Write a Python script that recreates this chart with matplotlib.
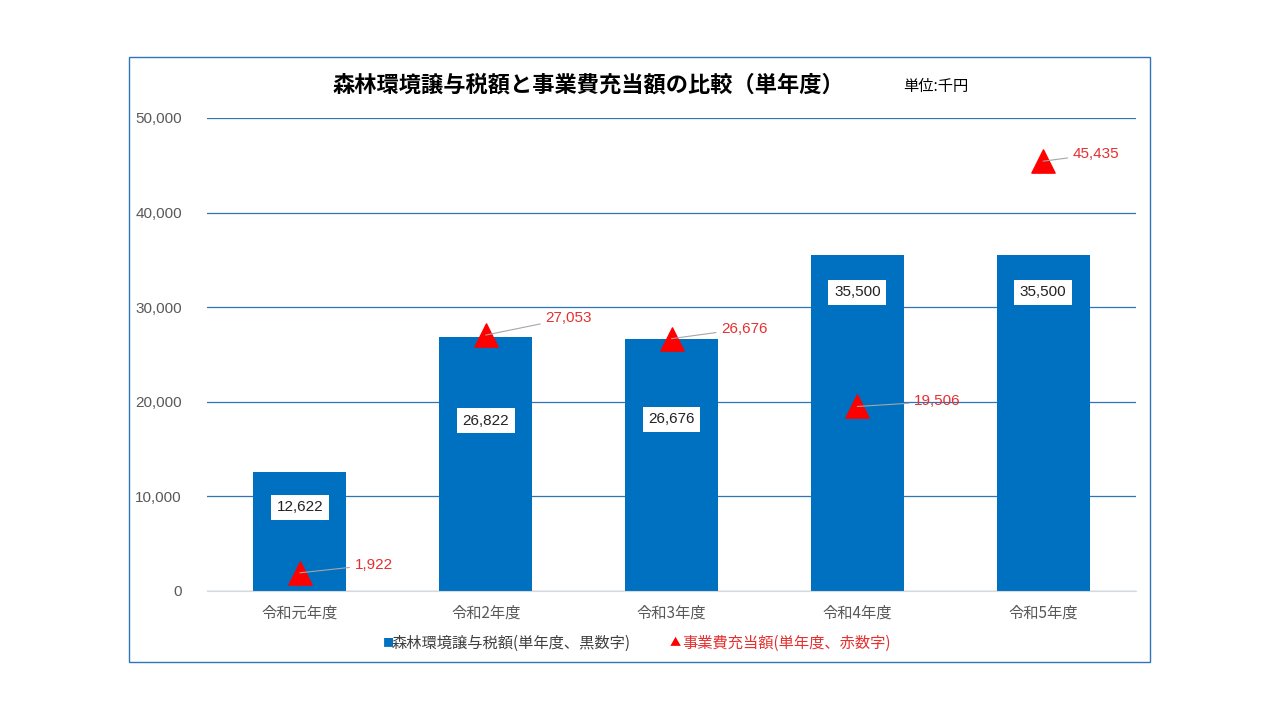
import matplotlib
matplotlib.use("Agg")
import matplotlib.pyplot as plt
from matplotlib.patches import Rectangle

plt.rcParams["font.family"] = "Noto Sans CJK JP"

categories = ["令和元年度", "令和2年度", "令和3年度", "令和4年度", "令和5年度"]
tax = [12622, 26822, 26676, 35500, 35500]
cost = [1922, 27053, 26676, 19506, 45435]
label_frac = [0.70, 0.67, 0.68, 0.89, 0.89]
label_off = [(55, 8), (60, 17), (50, 10), (57, 5), (30, 7)]  # pixels

fig = plt.figure(figsize=(12.8, 7.2), dpi=100)
fig.patches.append(Rectangle((129/1280, 1-662/720), (1150-129)/1280, (662-57)/720,
                             transform=fig.transFigure, fill=False, edgecolor="#2E75B6", lw=1))
ax = fig.add_axes([207/1280, 1-591/720, (1136-207)/1280, (591-118)/720])
x = range(len(categories))
ax.bar(x, tax, width=0.5, color="#0070C0", zorder=2)
for i, v in enumerate(tax):
    ax.text(i, v*label_frac[i], f"{v:,}", ha="center", va="center", fontsize=11, color="#222",
            bbox=dict(facecolor="white", edgecolor="none", pad=4), zorder=4, family="Liberation Sans")
ax.scatter(x, cost, marker="^", s=280, color="#FF0000", zorder=3)
for i, v in enumerate(cost):
    dx, dy = label_off[i]
    ax.annotate(f"{v:,}", (i, v), xytext=(dx*0.72, dy*0.72), textcoords="offset points",
                color="#E53030", fontsize=11, va="center", ha="left", family="Liberation Sans",
                arrowprops=dict(arrowstyle="-", color="#A6A6A6", lw=0.8, shrinkA=2, shrinkB=0),
                zorder=5)
ax.set_xlim(-0.5, 4.5)
ax.set_ylim(0, 50000)
ax.set_yticks(range(0, 50001, 10000))
ax.set_yticklabels([f"{t:,}" for t in range(0, 50001, 10000)], family="Liberation Sans")
ax.grid(axis="y", color="#2E75B6", lw=0.9, zorder=0)
ax.set_axisbelow(True)
ax.set_xticks(list(x))
ax.set_xticklabels(categories)
for s in ["top", "right", "left"]:
    ax.spines[s].set_visible(False)
ax.spines["bottom"].set_color("#D9D9D9")
ax.tick_params(length=0, labelsize=11, colors="#595959", pad=10)
ax.tick_params(axis="y", pad=18)

fig.text(588/1280, 1-85/720, "森林環境譲与税額と事業費充当額の比較（単年度）", ha="center", va="center",
         fontsize=16, fontweight="bold", color="#000")
fig.text(903/1280, 1-87/720, "単位:千円", ha="left", va="center", fontsize=11, color="#000")
fig.text(383/1280, 1-643/720, "■", ha="left", va="center", fontsize=8, color="#0070C0")
fig.text(392/1280, 1-643/720, "森林環境譲与税額(単年度、黒数字)", ha="left", va="center", fontsize=11, color="#404040")
fig.text(670/1280, 1-643/720, "▲", ha="left", va="center", fontsize=8, color="#FF0000")
fig.text(682/1280, 1-643/720, "事業費充当額(単年度、赤数字)", ha="left", va="center", fontsize=11, color="#E53030")
fig.savefig("out.png", dpi=100)
